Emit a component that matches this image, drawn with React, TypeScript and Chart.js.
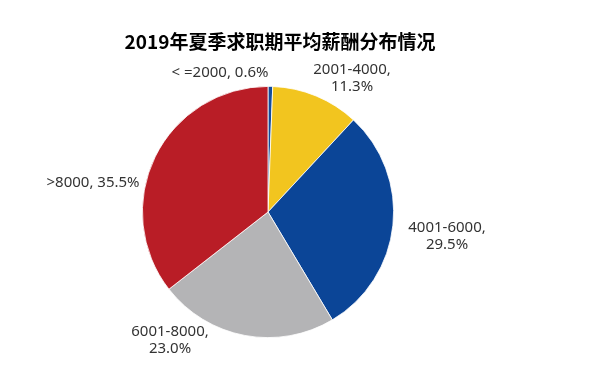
import React, { useEffect, useRef } from "react";
import { Chart, registerables } from "chart.js";

Chart.register(...registerables);

const title = "2019年夏季求职期平均薪酬分布情况";
const categories = ["<=2000", "2001-4000", "4001-6000", "6001-8000", ">8000"];
const values = [0.6, 11.3, 29.5, 23.0, 35.5];
const colors = ["#134C9A", "#F2C51F", "#0B4597", "#B4B4B6", "#B91D26"];
// label text lines
const labelLines = [
  ["< =2000, 0.6%"],
  ["2001-4000,", "11.3%"],
  ["4001-6000,", "29.5%"],
  ["6001-8000,", "23.0%"],
  [">8000, 35.5%"],
];
// label offsets (first line centre) relative to pie centre
const labelOffsets = [
  [-48, -139],
  [84, -142],
  [179, 16],
  [-98, 120],
  [-175, -29],
];

const labelPlugin = {
  id: "labels",
  afterDraw(chart: any) {
    const ctx = chart.ctx;
    const meta = chart.getDatasetMeta(0);
    const arc = meta.data[0];
    const cx = arc.x;
    const cy = arc.y;
    ctx.save();
    ctx.fillStyle = "#000";
    ctx.font = "bold 19px 'Noto Sans CJK SC', 'Noto Sans', sans-serif";
    ctx.textAlign = "center";
    ctx.textBaseline = "middle";
    ctx.fillText(title, 280, 42);
    ctx.font = "15px 'Noto Sans', 'Open Sans', sans-serif";
    ctx.fillStyle = "#333";
    labelLines.forEach((lines, i) => {
      const [dx, dy] = labelOffsets[i];
      lines.forEach((t, j) => {
        ctx.fillText(t, cx + dx, cy + dy + j * 17);
      });
    });
    ctx.restore();
  },
};

export default function App() {
  const ref = useRef<HTMLCanvasElement>(null);
  useEffect(() => {
    const chart = new Chart(ref.current as HTMLCanvasElement, {
      type: "pie",
      data: {
        labels: categories,
        datasets: [
          {
            data: values,
            backgroundColor: colors,
            borderColor: "#ffffff",
            borderWidth: 0.8,
          },
        ],
      },
      options: {
        animation: false,
        responsive: false,
        maintainAspectRatio: false,
        layout: { padding: { top: 86, bottom: 38, left: 142, right: 206 } },
        plugins: {
          legend: { display: false },
          tooltip: { enabled: false },
          title: { display: false },
        },
      },
      plugins: [labelPlugin],
    });
    return () => chart.destroy();
  }, []);
  return (
    <div style={{ position: "fixed", left: 0, top: 0, width: 600, height: 376, background: "#fff" }}>
      <canvas ref={ref} width={600} height={376} style={{ width: 600, height: 376 }} />
    </div>
  );
}
